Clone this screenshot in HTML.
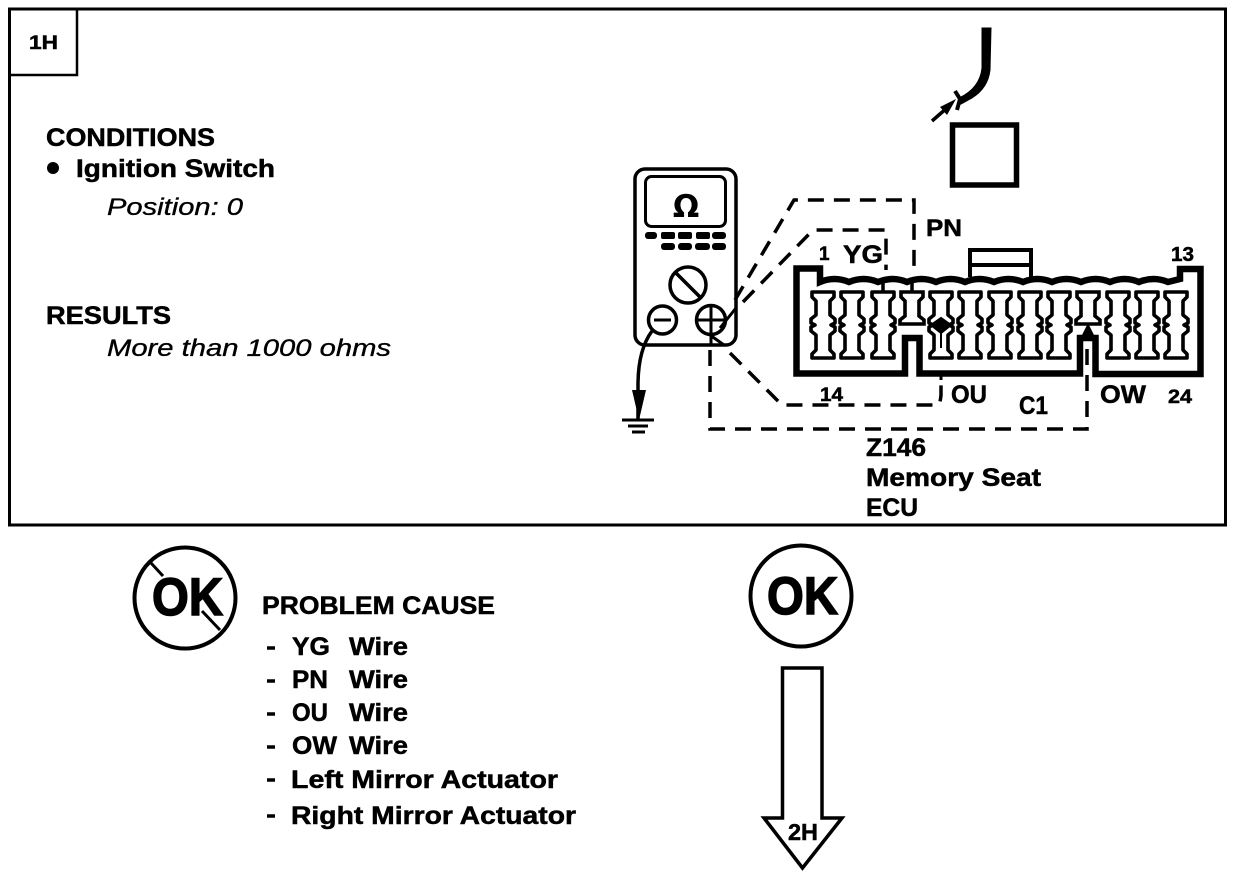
<!DOCTYPE html>
<html><head><meta charset="utf-8"><style>
html,body{margin:0;padding:0;background:#fff}
svg{display:block}
text{font-family:"Liberation Sans",sans-serif;font-weight:bold;fill:#000;stroke:#000;stroke-width:.5}
.i{font-style:italic;font-weight:normal;stroke-width:.35}
</style></head><body>
<svg width="1248" height="876" viewBox="0 0 1248 876" xmlns="http://www.w3.org/2000/svg">
<defs>
<path id="p" d="M-11,0H11V5L7,9V23L12,27V31L8,33L12,35V39L7,43V58L11,62V66H-11V62L-7,58V43L-12,39V35L-8,33L-12,31V27L-7,23V9L-11,5Z" fill="#fff" stroke="#000" stroke-width="3.600" stroke-linejoin="round"/>
</defs>
<rect width="1248" height="876" fill="#fff"/>
<rect x="9.500" y="9" width="1216" height="516" fill="none" stroke="#000" stroke-width="3"/>
<path d="M9,75H77V9" fill="none" stroke="#000" stroke-width="2.500"/>
<text x="29" y="49" font-size="19" textLength="29" lengthAdjust="spacingAndGlyphs">1H</text>

<text x="46" y="146" font-size="25" textLength="169" lengthAdjust="spacingAndGlyphs">CONDITIONS</text>
<circle cx="53" cy="168" r="6"/>
<text x="76" y="177" font-size="25" textLength="199" lengthAdjust="spacingAndGlyphs">Ignition Switch</text>
<text class="i" x="107" y="215" font-size="24" textLength="136" lengthAdjust="spacingAndGlyphs">Position: 0</text>
<text x="46" y="324" font-size="25" textLength="125" lengthAdjust="spacingAndGlyphs">RESULTS</text>
<text class="i" x="107" y="356" font-size="24" textLength="284" lengthAdjust="spacingAndGlyphs">More than 1000 ohms</text>

<!-- top wire and sensor -->
<path d="M982,28H991L990,70Q988,88 972,98L961,104L959,98Q980,88 982,68Z" stroke="#000" stroke-width="1"/>
<path d="M955,91L960,99L957,110" fill="none" stroke="#000" stroke-width="4"/>
<path d="M932,121L948,107" fill="none" stroke="#000" stroke-width="3.500"/>
<path d="M956,99L940,107L947,115Z"/>
<rect x="952.500" y="125" width="64" height="60" fill="none" stroke="#000" stroke-width="5.500"/>

<!-- meter -->
<rect x="635" y="169" width="101" height="176" rx="10" fill="#fff" stroke="#000" stroke-width="3.500"/>
<rect x="645.500" y="176.500" width="80" height="50" rx="6" fill="none" stroke="#000" stroke-width="3"/>
<text x="686" y="217" font-size="31" text-anchor="middle" style="font-family:'DejaVu Sans',sans-serif;stroke-width:0">Ω</text>
<g>
<rect x="645" y="232" width="12" height="7" rx="3"/><rect x="661" y="232" width="14" height="7" rx="2"/><rect x="678" y="232" width="14" height="7" rx="2"/><rect x="696" y="232" width="14" height="7" rx="2"/><rect x="712" y="232" width="14" height="7" rx="3"/>
<rect x="661" y="243" width="14" height="7" rx="3"/><rect x="678" y="243" width="14" height="7" rx="3"/><rect x="695" y="243" width="15" height="7" rx="3"/><rect x="712" y="243" width="14" height="7" rx="3"/>
</g>
<circle cx="688" cy="285" r="18" fill="none" stroke="#000" stroke-width="3.500"/>
<path d="M676,273L700,297" stroke="#000" stroke-width="3.500"/>
<circle cx="662.500" cy="320" r="14" fill="#fff" stroke="#000" stroke-width="3.500"/>
<path d="M654,320H671" stroke="#000" stroke-width="3"/>
<circle cx="711" cy="320" r="14.500" fill="#fff" stroke="#000" stroke-width="3.500"/>
<path d="M697,320H725M711,306V345" stroke="#000" stroke-width="3"/>
<path d="M720,328L736,308M710,335L724,345" stroke="#000" stroke-width="3" fill="none"/>
<path d="M652,331Q638,350 638,385V421" fill="none" stroke="#000" stroke-width="3.500"/>
<path d="M632,390H646L639,420Z"/>
<path d="M622,420H654M628,426H648M632,432H645" stroke="#000" stroke-width="3"/>

<!-- dashed wires -->
<g fill="none" stroke="#000" stroke-width="3.500" stroke-dasharray="16 10">
<path d="M735,300L794,200H914V270"/>
<path d="M743,302L813,230H886V270"/>
<path d="M730,353L782,405H938Q940,405 941,395V380"/>
<path d="M710,350V429H1087V342"/>
</g>
<path d="M941,364V380" stroke="#000" stroke-width="3"/>

<!-- connector -->
<path d="M970,277V250H1031V277M970,265H1030" fill="none" stroke="#000" stroke-width="4"/>
<path d="M796.500,373.500V268.500H820V282q14.500,-6,29,0q14.500,-6,29,0q14.500,-6,29,0q14.500,-6,29,0q14.500,-6,29,0q14.500,-6,29,0q14.500,-6,29,0q14.500,-6,29,0q14.500,-6,29,0q14.500,-6,29,0q14.500,-6,29,0q14.500,-6,29,0L1180,279V269H1200.500V374H1095.500V338H1080V373.500H919.500V338H905V373.500Z" fill="#fff" stroke="#000" stroke-width="6.500" stroke-linejoin="miter"/>
<path d="M883,281V292M912,281V292" stroke="#000" stroke-width="3.500"/>
<use href="#p" x="823" y="292"/><use href="#p" x="852" y="292"/><use href="#p" x="883" y="292"/>
<use href="#p" x="941" y="292"/><use href="#p" x="970" y="292"/><use href="#p" x="1000" y="292"/><use href="#p" x="1030" y="292"/><use href="#p" x="1059" y="292"/>
<use href="#p" x="1118" y="292"/><use href="#p" x="1147" y="292"/><use href="#p" x="1176" y="292"/>
<path d="M901,292H923V297L919,301V316L924,320V324H900V320L905,316V301L901,297Z" fill="#fff" stroke="#000" stroke-width="3.600"/>
<path d="M1077,292H1099V297L1095,301V316L1100,320V324H1076V320L1081,316V301L1077,297Z" fill="#fff" stroke="#000" stroke-width="3.600"/>
<path d="M941,318l10,7l-10,8l-10,-8ZM941,330V348" stroke="#000" stroke-width="2"/>
<path d="M1088,323L1081,337H1095Z"/>

<!-- connector labels -->
<text x="926" y="236" font-size="24" textLength="36" lengthAdjust="spacingAndGlyphs">PN</text>
<text x="819" y="260" font-size="19">1</text>
<text x="843" y="263" font-size="25" textLength="40" lengthAdjust="spacingAndGlyphs">YG</text>
<text x="1171" y="261" font-size="20" textLength="23" lengthAdjust="spacingAndGlyphs">13</text>
<text x="820" y="401" font-size="19" textLength="23" lengthAdjust="spacingAndGlyphs">14</text>
<text x="951" y="403" font-size="25" textLength="36" lengthAdjust="spacingAndGlyphs">OU</text>
<text x="1019" y="414" font-size="25" textLength="29" lengthAdjust="spacingAndGlyphs">C1</text>
<text x="1100" y="403" font-size="25" textLength="46" lengthAdjust="spacingAndGlyphs">OW</text>
<text x="1168" y="403" font-size="19" textLength="24" lengthAdjust="spacingAndGlyphs">24</text>
<text x="866" y="456" font-size="25" textLength="60" lengthAdjust="spacingAndGlyphs">Z146</text>
<text x="866" y="486" font-size="25" textLength="175" lengthAdjust="spacingAndGlyphs">Memory Seat</text>
<text x="866" y="516" font-size="25" textLength="52" lengthAdjust="spacingAndGlyphs">ECU</text>

<!-- bottom -->
<circle cx="185" cy="598" r="50.500" fill="none" stroke="#000" stroke-width="4"/>
<text x="152" y="615" font-size="53" textLength="71" lengthAdjust="spacingAndGlyphs" style="stroke-width:1.500">OK</text>
<path d="M151,563L163,576M202,611L220,630" stroke="#000" stroke-width="3"/>
<circle cx="801" cy="596" r="50.500" fill="none" stroke="#000" stroke-width="4"/>
<text x="767" y="614" font-size="53" textLength="71" lengthAdjust="spacingAndGlyphs" style="stroke-width:1.500">OK</text>

<text x="262" y="614" font-size="25" textLength="233" lengthAdjust="spacingAndGlyphs">PROBLEM CAUSE</text>
<g stroke="#000" stroke-width="3.500"><path d="M267,648H275M267,681H275M267,714H275M267,747H275M267,780H275M267,816H275"/></g>
<text x="292" y="655" font-size="25" textLength="38" lengthAdjust="spacingAndGlyphs">YG</text><text x="349" y="655" font-size="25" textLength="59" lengthAdjust="spacingAndGlyphs">Wire</text>
<text x="292" y="688" font-size="25" textLength="36" lengthAdjust="spacingAndGlyphs">PN</text><text x="349" y="688" font-size="25" textLength="59" lengthAdjust="spacingAndGlyphs">Wire</text>
<text x="292" y="721" font-size="25" textLength="36" lengthAdjust="spacingAndGlyphs">OU</text><text x="349" y="721" font-size="25" textLength="59" lengthAdjust="spacingAndGlyphs">Wire</text>
<text x="292" y="754" font-size="25" textLength="45" lengthAdjust="spacingAndGlyphs">OW</text><text x="349" y="754" font-size="25" textLength="59" lengthAdjust="spacingAndGlyphs">Wire</text>
<text x="291" y="788" font-size="25" textLength="267" lengthAdjust="spacingAndGlyphs">Left Mirror Actuator</text>
<text x="291" y="824" font-size="25" textLength="285" lengthAdjust="spacingAndGlyphs">Right Mirror Actuator</text>

<path d="M782.500,668H822V818H842L802.500,868L764,818H782.500Z" fill="#fff" stroke="#000" stroke-width="3.500"/>
<text x="788" y="840" font-size="23" textLength="30" lengthAdjust="spacingAndGlyphs">2H</text>
</svg>
</body></html>
